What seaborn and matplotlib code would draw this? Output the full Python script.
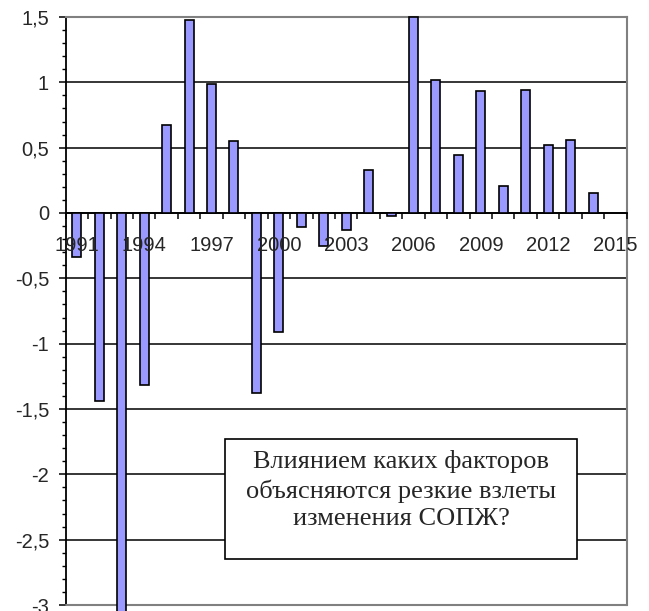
import numpy as np
import pandas as pd
import matplotlib
matplotlib.use("Agg")
import matplotlib.pyplot as plt
from matplotlib.patches import Rectangle
from matplotlib.ticker import FixedLocator, FuncFormatter, MultipleLocator
import seaborn as sns

# Year-on-year change, 1991-2014 (2015 has no value yet)
years = list(range(1991, 2015))
values = [-0.34, -1.44, -3.30, -1.32, 0.67, 1.48, 0.99, 0.55, -1.38, -0.91,
          -0.11, -0.25, -0.13, 0.33, -0.02, 1.50, 1.02, 0.44, 0.93, 0.21,
          0.94, 0.52, 0.56, 0.15]
categories = [str(y) for y in range(1991, 2016)]
tick_years = [str(y) for y in range(1991, 2016, 3)]
note_lines = ["Влиянием каких факторов",
              "объясняются резкие взлеты",
              "изменения СОПЖ?"]

sns.set_style("white")
plt.rcParams["font.family"] = ["Liberation Sans", "DejaVu Sans"]

df = pd.DataFrame({"year": [str(y) for y in years], "value": values})

fig = plt.figure(figsize=(6.49, 6.11), dpi=100)
ax = fig.add_axes([0.1012, 0.0098, 0.8644, 0.9624])

sns.barplot(data=df, x="year", y="value", order=categories, color="#9999FF",
            saturation=1, edgecolor="black", linewidth=1.2, width=0.4,
            errorbar=None, ax=ax, zorder=3)
for p in ax.patches:
    p.set_clip_on(False)

ax.set_xlim(-0.5, len(categories) - 0.5)
ax.set_ylim(-3, 1.5)
ax.set_xlabel("")
ax.set_ylabel("")

# y axis: major every 0.5 with comma decimals, minor every 0.1
ax.yaxis.set_major_locator(MultipleLocator(0.5))
ax.yaxis.set_minor_locator(MultipleLocator(0.1))
ax.yaxis.set_major_formatter(FuncFormatter(lambda v, _: f"{v:g}".replace(".", ",")))
ax.tick_params(axis="y", which="major", direction="out", length=5, width=1.1,
               pad=7, labelsize=14.5, color="black", left=True)
ax.tick_params(axis="y", which="minor", direction="out", length=3, width=1.0,
               color="black", left=True)

# x axis on the zero line, tick marks between categories
ax.spines["bottom"].set_position(("data", 0))
idx = [categories.index(t) for t in tick_years]
ax.xaxis.set_major_locator(FixedLocator(idx))
ax.set_xticklabels(tick_years)
ax.xaxis.set_minor_locator(FixedLocator(np.arange(-0.5, len(categories), 1.0)))
ax.tick_params(axis="x", which="major", length=0, pad=16.5, labelsize=14.5, bottom=True)
ax.tick_params(axis="x", which="minor", direction="out", length=4.5, width=1.1,
               color="black", bottom=True)

ax.grid(axis="y", which="major", color="black", linewidth=1.1)
ax.set_axisbelow(True)
# year labels sit on top of the bars
ax.xaxis.set_zorder(3.5)

for side in ("top", "right"):
    ax.spines[side].set_color("#808080")
    ax.spines[side].set_linewidth(1.5)
ax.spines["left"].set_color("black")
ax.spines["left"].set_linewidth(1.3)
ax.spines["bottom"].set_color("black")
ax.spines["bottom"].set_linewidth(1.3)
ax.axhline(-3, color="#808080", linewidth=1.5, zorder=2.6, clip_on=False)

# Annotation box
ax.add_patch(Rectangle((6.6, -2.645), 15.68, 0.915, facecolor="white",
                       edgecolor="black", linewidth=1.2, zorder=4))
ax.text(14.45, -2.12, "\n".join(note_lines), ha="center", va="center",
        fontsize=19, family=["Liberation Serif", "DejaVu Serif"],
        linespacing=1.33, zorder=5)

fig.savefig("out.png", dpi=100)
